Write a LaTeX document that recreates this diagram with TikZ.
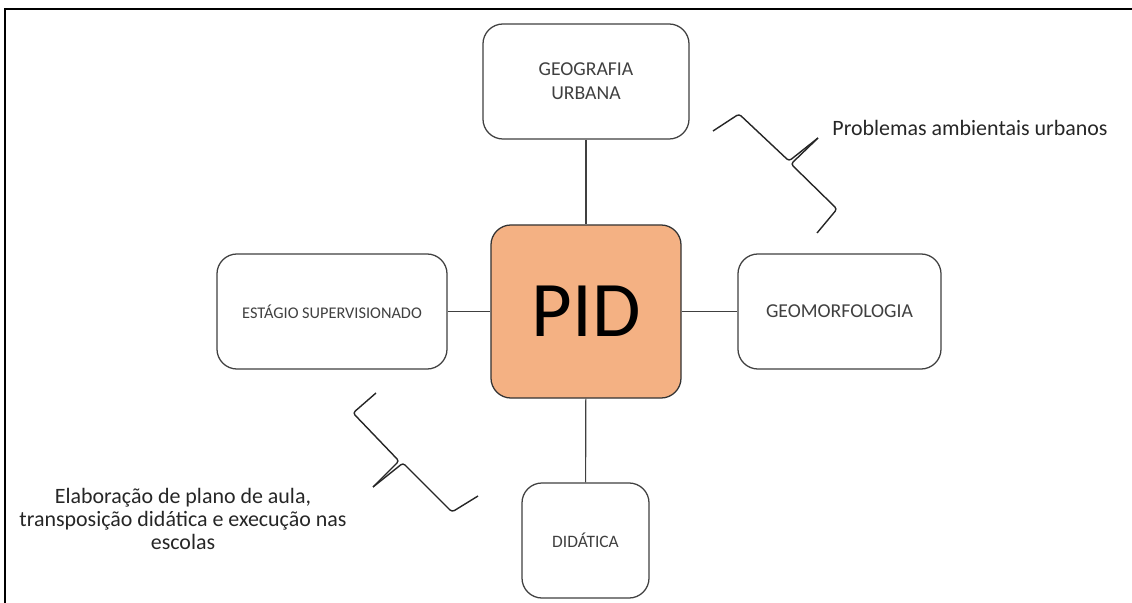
\documentclass[tikz,border=0pt]{standalone}
\usepackage{fontspec}
\setmainfont{Carlito}
\definecolor{pidfill}{HTML}{F4B183}
\definecolor{boxline}{HTML}{404040}
\definecolor{boxtext}{HTML}{404040}
\begin{document}
\begin{tikzpicture}[x=0.025cm,y=-0.025cm,
  topic/.style={draw=boxline,line width=0.9pt,rounded corners=0.5cm,fill=white,
    align=center,font=\fontsize{14}{17}\selectfont,text=boxtext,inner sep=0pt},
  link/.style={draw=boxline,line width=0.8pt},
  bracket/.style={draw=black!85,line width=1pt,rounded corners=2pt},
  note/.style={align=center,font=\fontsize{15.6}{16.6}\selectfont,text=black!85}]
\useasboundingbox (0,0) rectangle (1132,603);
\draw [black,line width=1.4pt] (5,603) -- (5,9) -- (1132,9);
\node [topic,minimum width=5.15cm,minimum height=2.875cm] (geo) at (586,81.5) {GEOGRAFIA\\URBANA};
\node [topic,minimum width=5.75cm,minimum height=2.875cm,font=\fontsize{11.6}{14}\selectfont] (est) at (332,311.5) {EST\'AGIO SUPERVISIONADO};
\node [topic,minimum width=5.075cm,minimum height=2.875cm] (geom) at (839.5,311.5) {GEOMORFOLOGIA};
\node [topic,minimum width=3.175cm,minimum height=2.875cm,font=\fontsize{12.4}{14}\selectfont] (did) at (585.5,540.5) {DID\'ATICA};
\node [topic,fill=pidfill,draw=black!80,minimum width=4.75cm,minimum height=4.325cm,
  font=\fontsize{56}{60}\selectfont,text=black] (pid) at (586,311.5) {PID};
\draw [link] (geo) -- (pid);
\draw [link] (pid) -- (did);
\draw [link] (est) -- (pid);
\draw [link] (pid) -- (geom);
\node [note] (amb) at (970,128) {Problemas ambientais urbanos};
\node [note] (aula) at (183,519) {Elabora\c{c}\~ao de plano de aula,\\transposi\c{c}\~ao did\'atica e execu\c{c}\~ao nas\\escolas};
\draw [bracket] (713,131) -- (739,114) -- (789,161) -- (818,138);
\draw [bracket] (818,138) -- (791,164) -- (837,209) -- (817,233);
\draw [bracket] (376,393) -- (353,413) -- (399,461) -- (373,487);
\draw [bracket] (373,487) -- (403,463) -- (452,512) -- (478,496);
\end{tikzpicture}
\end{document}
